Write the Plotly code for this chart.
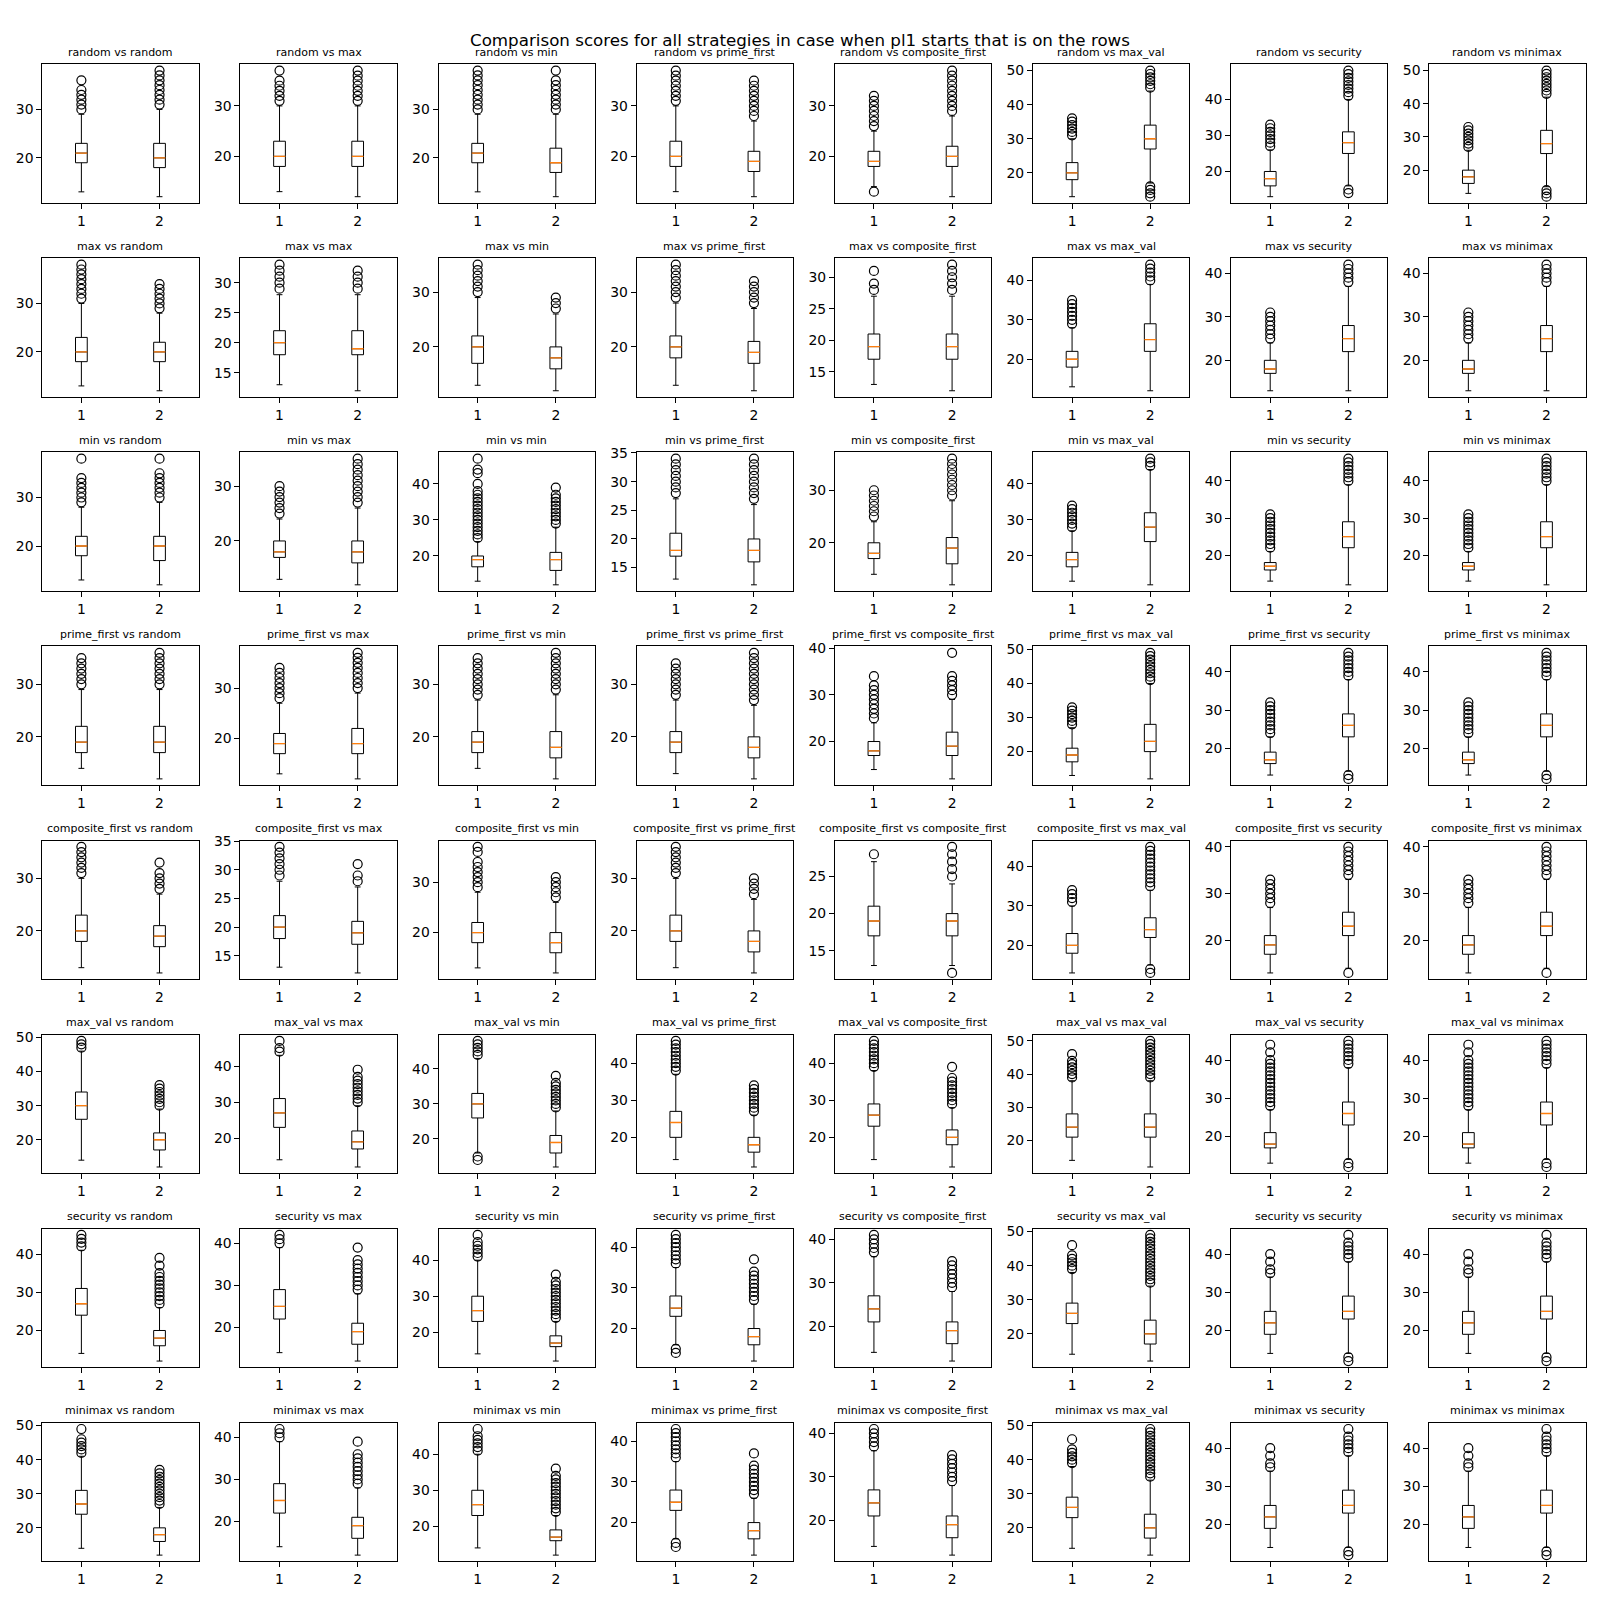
import plotly.graph_objects as go

# ---------------- data ----------------
strategies = ["random", "max", "min", "prime_first", "composite_first",
              "max_val", "security", "minimax"]
positions = [1, 2]
x_tick_labels = ["1", "2"]
main_title = "Comparison scores for all strategies in case when pl1 starts that is on the rows"

# y tick step per subplot (rows = pl1 strategy, cols = opponent)
y_tick_steps = [
    [10, 10, 10, 10, 10, 10, 10, 10],
    [10, 5, 10, 10, 5, 10, 10, 10],
    [10, 10, 10, 5, 10, 10, 10, 10],
    [10, 10, 10, 10, 10, 10, 10, 10],
    [10, 5, 10, 10, 5, 10, 10, 10],
    [10, 10, 10, 10, 10, 10, 10, 10],
    [10, 10, 10, 10, 10, 10, 10, 10],
    [10, 10, 10, 10, 10, 10, 10, 10],
]

# box statistics: [lower whisker, q1, median, q3, upper whisker]
box1_stats = [
    [[13, 19, 21, 23, 29], [13, 18, 20, 23, 30], [13, 19, 21, 23, 29], [13, 18, 20, 23, 30],
     [14, 18, 19, 21, 25], [13, 18, 20, 23, 30], [13, 16, 18, 20, 26], [13, 16, 18, 20, 26]],
    [[13, 18, 20, 23, 30], [13, 18, 20, 22, 28], [13, 17, 20, 22, 29], [13, 18, 20, 22, 28],
     [13, 17, 19, 21, 27], [13, 18, 20, 22, 28], [13, 17, 18, 20, 24], [13, 17, 18, 20, 24]],
    [[13, 18, 20, 22, 28], [13, 17, 18, 20, 24], [13, 17, 19, 20, 24], [13, 17, 18, 21, 27],
     [14, 17, 18, 20, 24], [13, 17, 19, 21, 27], [13, 16, 17, 18, 21], [13, 16, 17, 18, 21]],
    [[14, 17, 19, 22, 29], [13, 17, 19, 21, 27], [14, 17, 19, 21, 27], [13, 17, 19, 21, 27],
     [14, 17, 18, 20, 24], [13, 17, 19, 21, 27], [13, 16, 17, 19, 23], [13, 16, 17, 19, 23]],
    [[13, 18, 20, 23, 30], [13, 18, 20, 22, 28], [13, 18, 20, 22, 28], [13, 18, 20, 23, 30],
     [13, 17, 19, 21, 27], [13, 18, 20, 23, 30], [13, 17, 19, 21, 27], [13, 17, 19, 21, 27]],
    [[14, 26, 30, 34, 46], [14, 23, 27, 31, 43], [16, 26, 30, 33, 43], [14, 20, 24, 27, 37],
     [14, 23, 26, 29, 38], [14, 21, 24, 28, 38], [13, 17, 18, 21, 27], [13, 17, 18, 21, 27]],
    [[14, 24, 27, 31, 41], [14, 22, 25, 29, 39], [14, 23, 26, 30, 40], [16, 23, 25, 28, 35],
     [14, 21, 24, 27, 36], [14, 23, 26, 29, 38], [14, 19, 22, 25, 34], [14, 19, 22, 25, 34]],
    [[14, 24, 27, 31, 41], [14, 22, 25, 29, 39], [14, 23, 26, 30, 40], [16, 23, 25, 28, 35],
     [14, 21, 24, 27, 36], [14, 23, 26, 29, 38], [14, 19, 22, 25, 34], [14, 19, 22, 25, 34]],
]

box2_stats = [
    [[12, 18, 20, 23, 30], [12, 18, 20, 23, 30], [12, 17, 19, 22, 29], [12, 17, 19, 21, 27],
     [12, 18, 20, 22, 28], [17, 27, 30, 34, 44], [16, 25, 28, 31, 40], [15, 25, 28, 32, 42]],
    [[12, 18, 20, 22, 28], [12, 18, 19, 22, 28], [12, 16, 18, 20, 26], [12, 17, 19, 21, 27],
     [12, 17, 19, 21, 27], [12, 22, 25, 29, 39], [13, 22, 25, 28, 37], [13, 22, 25, 28, 37]],
    [[12, 17, 20, 22, 29], [12, 16, 18, 20, 26], [12, 16, 19, 21, 28], [12, 16, 18, 20, 26],
     [12, 16, 19, 21, 28], [12, 24, 28, 32, 44], [12, 22, 25, 29, 39], [12, 22, 25, 29, 39]],
    [[12, 17, 19, 22, 29], [12, 17, 19, 22, 29], [12, 16, 18, 21, 28], [12, 16, 18, 20, 26],
     [12, 17, 19, 22, 29], [12, 20, 23, 28, 40], [14, 23, 26, 29, 38], [14, 23, 26, 29, 38]],
    [[12, 17, 19, 21, 27], [12, 17, 19, 21, 27], [12, 16, 18, 20, 26], [12, 16, 18, 20, 26],
     [13, 17, 19, 20, 24], [15, 22, 24, 27, 34], [14, 21, 23, 26, 33], [14, 21, 23, 26, 33]],
    [[12, 17, 20, 22, 29], [12, 17, 19, 22, 29], [12, 16, 19, 21, 28], [12, 16, 18, 20, 26],
     [12, 18, 20, 22, 28], [12, 21, 24, 28, 38], [14, 23, 26, 29, 38], [14, 23, 26, 29, 38]],
    [[12, 16, 18, 20, 26], [12, 16, 19, 21, 28], [12, 16, 17, 19, 23], [12, 16, 18, 20, 26],
     [12, 16, 19, 21, 28], [12, 17, 20, 24, 34], [14, 23, 25, 29, 38], [14, 23, 25, 29, 38]],
    [[12, 16, 18, 20, 26], [12, 16, 19, 21, 28], [12, 16, 17, 19, 23], [12, 16, 18, 20, 26],
     [12, 16, 19, 21, 28], [12, 17, 20, 24, 34], [14, 23, 25, 29, 38], [14, 23, 25, 29, 38]],
]

# outliers (fliers)
outliers1 = [
    [[30, 31, 32, 33, 34, 36], [31, 32, 33, 34, 35, 37], [30, 31, 32, 33, 34, 35, 36, 37, 38],
     [31, 32, 33, 34, 35, 36, 37], [13, 26, 27, 28, 29, 30, 31, 32], [31, 32, 33, 34, 35, 36],
     [27, 28, 29, 30, 31, 32, 33], [27, 28, 29, 30, 31, 32, 33]],
    [[31, 32, 33, 34, 35, 36, 37, 38], [29, 30, 31, 32, 33], [30, 31, 32, 33, 34, 35],
     [29, 30, 31, 32, 33, 34, 35], [28, 29, 31], [29, 30, 31, 32, 33, 34, 35],
     [25, 26, 27, 28, 29, 30, 31], [25, 26, 27, 28, 29, 30, 31]],
    [[29, 30, 31, 32, 33, 34, 38], [25, 26, 27, 28, 29, 30],
     [25, 26, 27, 28, 29, 30, 31, 32, 33, 34, 35, 36, 37, 38, 40, 43, 44, 47],
     [28, 29, 30, 31, 32, 33, 34], [25, 26, 27, 28, 29, 30], [28, 29, 30, 31, 32, 33, 34],
     [22, 23, 24, 25, 26, 27, 28, 29, 30, 31], [22, 23, 24, 25, 26, 27, 28, 29, 30, 31]],
    [[30, 31, 32, 33, 34, 35], [28, 29, 30, 31, 32, 33, 34], [28, 29, 30, 31, 32, 33, 34, 35],
     [28, 29, 30, 31, 32, 33, 34], [25, 26, 27, 28, 29, 30, 31, 32, 34], [28, 29, 30, 31, 32, 33],
     [24, 25, 26, 27, 28, 29, 30, 31, 32], [24, 25, 26, 27, 28, 29, 30, 31, 32]],
    [[31, 32, 33, 34, 35, 36], [29, 30, 31, 32, 33, 34], [29, 30, 31, 32, 33, 34, 36, 37],
     [31, 32, 33, 34, 35, 36], [28], [31, 32, 33, 34],
     [28, 29, 30, 31, 32, 33], [28, 29, 30, 31, 32, 33]],
    [[47, 48, 49], [44, 45, 47], [14, 15, 44, 45, 46, 47, 48], [38, 39, 40, 41, 42, 43, 44, 45, 46],
     [39, 40, 41, 42, 43, 44, 45, 46], [39, 40, 41, 42, 43, 44, 46],
     [28, 29, 30, 31, 32, 33, 34, 35, 36, 37, 38, 39, 40, 42, 44],
     [28, 29, 30, 31, 32, 33, 34, 35, 36, 37, 38, 39, 40, 42, 44]],
    [[42, 43, 44, 45], [40, 41, 42], [41, 42, 43, 44, 45, 47], [14, 15, 36, 37, 38, 39, 40, 41, 42, 43],
     [37, 38, 39, 40, 41], [39, 40, 41, 42, 43, 46], [35, 36, 38, 40], [35, 36, 38, 40]],
    [[42, 43, 44, 45, 46, 49], [40, 41, 42], [41, 42, 43, 44, 45, 47], [14, 15, 36, 37, 38, 39, 40, 41, 42, 43],
     [37, 38, 39, 40, 41], [39, 40, 41, 42, 43, 46], [35, 36, 38, 40], [35, 36, 38, 40]],
]

outliers2 = [
    [[31, 32, 33, 34, 35, 36, 37, 38], [31, 32, 33, 34, 35, 36, 37], [30, 31, 32, 33, 34, 35, 36, 38],
     [28, 29, 30, 31, 32, 33, 34, 35], [29, 30, 31, 32, 33, 34, 35, 36, 37],
     [13, 14, 15, 16, 45, 46, 47, 48, 49, 50], [14, 15, 41, 42, 43, 44, 45, 46, 47, 48],
     [12, 13, 14, 43, 44, 45, 46, 47, 48, 49, 50]],
    [[29, 30, 31, 32, 33, 34], [29, 30, 31, 32], [27, 28, 29], [28, 29, 30, 31, 32],
     [28, 29, 30, 31, 32], [40, 41, 42, 43, 44], [38, 39, 40, 41, 42], [38, 39, 40, 41, 42]],
    [[30, 31, 32, 33, 34, 35, 38], [27, 28, 29, 30, 31, 32, 33, 34, 35],
     [29, 30, 31, 32, 33, 34, 35, 36, 37, 39], [27, 28, 29, 30, 31, 32, 33, 34],
     [29, 30, 31, 32, 33, 34, 35, 36], [45, 46, 47],
     [40, 41, 42, 43, 44, 45, 46], [40, 41, 42, 43, 44, 45, 46]],
    [[30, 31, 32, 33, 34, 35, 36], [30, 31, 32, 33, 34, 35, 36, 37], [29, 30, 31, 32, 33, 34, 35, 36],
     [27, 28, 29, 30, 31, 32, 33, 34, 35, 36], [30, 31, 32, 33, 34, 39],
     [41, 42, 43, 44, 45, 46, 47, 48, 49],
     [12, 13, 39, 40, 41, 42, 43, 44, 45], [12, 13, 39, 40, 41, 42, 43, 44, 45]],
    [[28, 29, 30, 31, 33], [28, 29, 31], [27, 28, 29, 30, 31], [27, 28, 29, 30],
     [12, 25, 26, 27, 28, 29], [13, 14, 35, 36, 37, 38, 39, 40, 41, 42, 43, 44, 45],
     [13, 34, 35, 36, 37, 38, 39, 40], [13, 34, 35, 36, 37, 38, 39, 40]],
    [[30, 31, 32, 33, 34, 35, 36], [30, 31, 32, 33, 34, 35, 36, 37, 39],
     [29, 30, 31, 32, 33, 34, 35, 36, 38], [27, 28, 29, 30, 31, 32, 33, 34],
     [29, 30, 31, 32, 33, 34, 35, 36, 39], [39, 40, 41, 42, 43, 44, 45, 46, 47, 48, 49, 50],
     [12, 13, 39, 40, 41, 42, 43, 44, 45], [12, 13, 39, 40, 41, 42, 43, 44, 45]],
    [[27, 28, 29, 30, 31, 32, 33, 34, 35, 37, 39], [29, 30, 31, 32, 33, 34, 35, 36, 39],
     [24, 25, 26, 27, 28, 29, 30, 31, 32, 33, 34, 36], [27, 28, 29, 30, 31, 32, 33, 34, 37],
     [29, 30, 31, 32, 33, 34, 35],
     [35, 36, 37, 38, 39, 40, 41, 42, 43, 44, 45, 46, 47, 48, 49],
     [12, 13, 39, 40, 41, 42, 43, 45], [12, 13, 39, 40, 41, 42, 43, 45]],
    [[27, 28, 29, 30, 31, 32, 33, 34, 35, 36, 37], [29, 30, 31, 32, 33, 34, 35, 36, 39],
     [24, 25, 26, 27, 28, 29, 30, 31, 32, 33, 34, 36], [27, 28, 29, 30, 31, 32, 33, 34, 37],
     [29, 30, 31, 32, 33, 34, 35],
     [35, 36, 37, 38, 39, 40, 41, 42, 43, 44, 45, 46, 47, 48, 49],
     [12, 13, 39, 40, 41, 42, 43, 45], [12, 13, 39, 40, 41, 42, 43, 45]],
]

# ---------------- layout geometry (pixels on a 1600x1600 canvas) ----------------
W = H = 1600
AX_LEFT0, AX_PITCH_X, AX_W = 42.3, 198.14, 156.3
AX_TOP0, AX_PITCH_Y, AX_H = 64.3, 194.06, 138.7
BOX_WIDTH = 0.15
FONT = "DejaVu Sans"

fig = go.Figure()
layout_axes = {}
annotations = []

box_stats = [box1_stats, box2_stats]
outliers = [outliers1, outliers2]

for r in range(8):
    for c in range(8):
        k = r * 8 + c + 1
        xa = "x" if k == 1 else f"x{k}"
        ya = "y" if k == 1 else f"y{k}"

        vals = []
        for b in range(2):
            st = box_stats[b][r][c]
            fl = outliers[b][r][c]
            pos = positions[b]
            vals += [st[0], st[4]] + fl
            fig.add_trace(go.Box(
                x=[pos], q1=[st[1]], median=[st[2]], q3=[st[3]],
                lowerfence=[st[0]], upperfence=[st[4]],
                orientation="v", width=BOX_WIDTH, whiskerwidth=0.5,
                line=dict(color="black", width=1),
                fillcolor="rgba(0,0,0,0)", boxpoints=False,
                xaxis=xa, yaxis=ya, showlegend=False, hoverinfo="skip"))
            fig.add_trace(go.Scatter(
                x=[pos - BOX_WIDTH / 2, pos + BOX_WIDTH / 2], y=[st[2], st[2]],
                mode="lines", line=dict(color="#ff7f0e", width=1.3),
                xaxis=xa, yaxis=ya, showlegend=False, hoverinfo="skip"))
            if fl:
                fig.add_trace(go.Scatter(
                    x=[pos] * len(fl), y=fl, mode="markers",
                    marker=dict(symbol="circle-open", size=9, color="black",
                                line=dict(width=1.2, color="black")),
                    xaxis=xa, yaxis=ya, showlegend=False, hoverinfo="skip",
                    cliponaxis=False))

        vmin, vmax = min(vals), max(vals)
        pad = 0.05 * (vmax - vmin)

        left = AX_LEFT0 + c * AX_PITCH_X
        top = AX_TOP0 + r * AX_PITCH_Y
        xdom = [left / W, (left + AX_W) / W]
        ydom = [1 - (top + AX_H) / H, 1 - top / H]

        common = dict(showline=True, mirror=True, linecolor="black", linewidth=1,
                      showgrid=False, zeroline=False, ticks="outside", ticklen=5,
                      tickwidth=1, tickcolor="black", automargin=False,
                      tickfont=dict(family=FONT, size=13.9, color="black"))
        layout_axes["xaxis" if k == 1 else f"xaxis{k}"] = dict(
            domain=xdom, anchor=ya, range=[0.5, 2.5],
            tickmode="array", tickvals=positions, ticktext=x_tick_labels, **common)
        layout_axes["yaxis" if k == 1 else f"yaxis{k}"] = dict(
            domain=ydom, anchor=xa, range=[vmin - pad, vmax + pad],
            tick0=0, dtick=y_tick_steps[r][c], **common)

        annotations.append(dict(
            text=f"{strategies[r]} vs {strategies[c]}",
            x=(left + AX_W / 2) / W, y=1 - (top - 12) / H,
            xref="paper", yref="paper", xanchor="center", yanchor="middle",
            showarrow=False, font=dict(family=FONT, size=11, color="black")))

annotations.append(dict(
    text=main_title, x=0.5, y=1 - 40 / H, xref="paper", yref="paper",
    xanchor="center", yanchor="middle", showarrow=False,
    font=dict(family=FONT, size=16.7, color="black")))

fig.update_layout(
    width=W, height=H, margin=dict(l=0, r=0, t=0, b=0, autoexpand=False),
    paper_bgcolor="white", plot_bgcolor="white",
    font=dict(family=FONT, color="black"),
    annotations=annotations, boxmode="overlay", **layout_axes)

fig.write_html("out.html")
